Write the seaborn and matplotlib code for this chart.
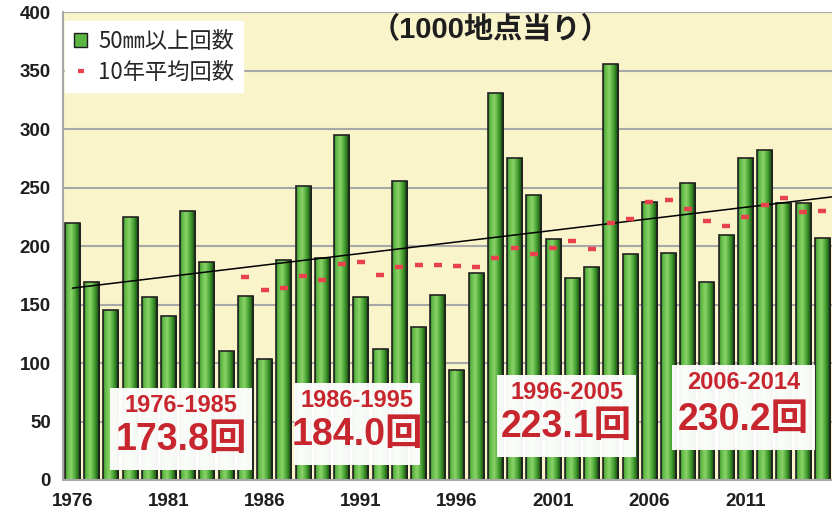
import numpy as np
import pandas as pd
import matplotlib
matplotlib.use("Agg")
import matplotlib.pyplot as plt
import seaborn as sns
from matplotlib.colors import LinearSegmentedColormap
from matplotlib.patches import Rectangle, Patch
from matplotlib.lines import Line2D

# data
years = list(range(1976, 2016))
counts = [220, 169, 145, 225, 156, 140, 230, 186, 110, 157,
          103, 188, 251, 190, 295, 156, 112, 256, 131, 158,
          94, 177, 331, 275, 244, 206, 173, 182, 356, 193,
          238, 194, 254, 169, 209, 275, 282, 237, 237, 207]
avg_years = list(range(1985, 2016))
avg_counts = [173.8, 162.1, 164.0, 174.6, 171.1, 185.0, 186.6, 175.2, 182.0, 184.0,
              184.0, 183.1, 182.0, 190.0, 198.5, 193.4, 198.4, 204.5, 197.1, 219.6,
              223.1, 237.5, 239.3, 231.6, 221.0, 217.5, 224.4, 235.3, 240.7, 228.8,
              230.2]
trend_years = [1976, 2015.5]
trend_counts = [164, 242]
tick_years = [1976, 1981, 1986, 1991, 1996, 2001, 2006, 2011]
periods = ["1976-1985", "1986-1995", "1996-2005", "2006-2014"]
period_means = ["173.8回", "184.0回", "223.1回", "230.2回"]
legend_labels = ["50㎜以上回数", "10年平均回数"]
subtitle = "（1000地点当り）"

# annotation box layout (x0, x1 in bar index, y0, y1 in data units)
boxes = [(1.95, 9.36, 8.5, 78.6), (11.53, 18.1, 12.8, 82.9),
         (22.1, 29.3, 19.7, 89.7), (31.2, 38.6, 25.6, 98.3)]

sns.set_style("white")
plt.rcParams["font.family"] = ["Liberation Sans", "Noto Sans CJK JP"]

BG = "#FAF4CB"
GRID = "#A8A8A8"
RED = "#C8262E"
DASH = "#E8424C"

fig = plt.figure(figsize=(8.32, 5.12), dpi=100)
ax = fig.add_axes([0.0754, 0.0625, 0.9246, 0.914])
ax.set_facecolor(BG)

df = pd.DataFrame({"year": [str(y) for y in years], "count": counts})
sns.barplot(data=df, x="year", y="count", color="#5CB543", width=0.78,
            edgecolor="#222222", linewidth=1.2, ax=ax, zorder=2)

# gradient fill for the bars
cmap = LinearSegmentedColormap.from_list(
    "bar", [(0, "#2F7A22"), (0.12, "#5DB845"), (0.4, "#8AD468"),
            (0.7, "#3E9A2C"), (0.9, "#1F5515"), (1.0, "#0E220A")])
grad = np.linspace(0, 1, 64).reshape(1, -1)
for p in ax.patches:
    x0, y0 = p.get_x(), p.get_y()
    w, h = p.get_width(), p.get_height()
    im = ax.imshow(grad, cmap=cmap, aspect="auto", extent=(x0, x0 + w, y0, y0 + h),
                   zorder=2.1, interpolation="bilinear")
    im.set_clip_path(p)
    p.set_zorder(2.2)
    p.set_facecolor("none")

# 10-year averages
avg_idx = [y - years[0] for y in avg_years]
ax.plot(avg_idx, avg_counts, ls="none", marker="_", markersize=5.5,
        markeredgewidth=3.2, color=DASH, zorder=4)

# trend line
ax.plot([y - years[0] for y in trend_years], trend_counts, color="black", lw=1.1, zorder=3.5)

ax.set_xlim(-0.5, 39.36)
ax.set_ylim(0, 400)
ax.set_yticks(np.arange(0, 401, 50))
ax.yaxis.grid(True, color=GRID, lw=1.5)
ax.set_axisbelow(True)

ax.set_xticks([y - years[0] for y in tick_years])
ax.set_xticklabels([str(y) for y in tick_years])
ax.set_xticks(np.arange(-0.5, 40, 1), minor=True)
ax.tick_params(axis="x", which="major", length=0, pad=9, labelsize=13.5)
ax.tick_params(axis="x", which="minor", length=5, width=1.2, color=GRID)
ax.tick_params(axis="y", length=5, width=1.2, color=GRID, labelsize=13.5)
for lab in ax.get_xticklabels() + ax.get_yticklabels():
    lab.set_fontweight("bold")
    lab.set_color("#1e1e1e")
ax.set_xlabel("")
ax.set_ylabel("")

for side in ["top", "right"]:
    ax.spines[side].set_visible(False)
for side in ["left", "bottom"]:
    ax.spines[side].set_color(GRID)
    ax.spines[side].set_linewidth(1.5)

# period annotation boxes
for (x0, x1, y0, y1), per, val in zip(boxes, periods, period_means):
    ax.add_patch(Rectangle((x0, y0), x1 - x0, y1 - y0, facecolor="white",
                           edgecolor="none", alpha=0.96, zorder=5))
    xc = (x0 + x1) / 2
    ax.text(xc, y1 - 15, per, ha="center", va="center", fontsize=17,
            fontweight="bold", color=RED, zorder=6)
    ax.text(xc, y0 + 26, val, ha="center", va="center", fontsize=27,
            fontweight="bold", color=RED, zorder=6)

ax.text(0.556, 0.962, subtitle, transform=ax.transAxes, ha="center", va="center",
        fontsize=21, fontweight="bold", color="#1e1e1e",
        family=["Liberation Sans", "Noto Sans CJK JP"], zorder=6)

handles = [Patch(facecolor="#5CB543", edgecolor="#1c1c1c", linewidth=1.0),
           Line2D([], [], ls="none", marker="_", markersize=5,
                  markeredgewidth=3, color=DASH)]
leg = ax.legend(handles, legend_labels, loc="upper left", bbox_to_anchor=(0.003, 0.981),
                frameon=True, fancybox=False, framealpha=1, edgecolor="white",
                prop={"family": ["Noto Sans CJK JP"], "size": 16},
                handlelength=0.6, handleheight=0.6, handletextpad=0.5,
                labelspacing=0.35, borderpad=0.4, borderaxespad=0)
leg.set_zorder(7)

fig.savefig("out.png", dpi=100)
